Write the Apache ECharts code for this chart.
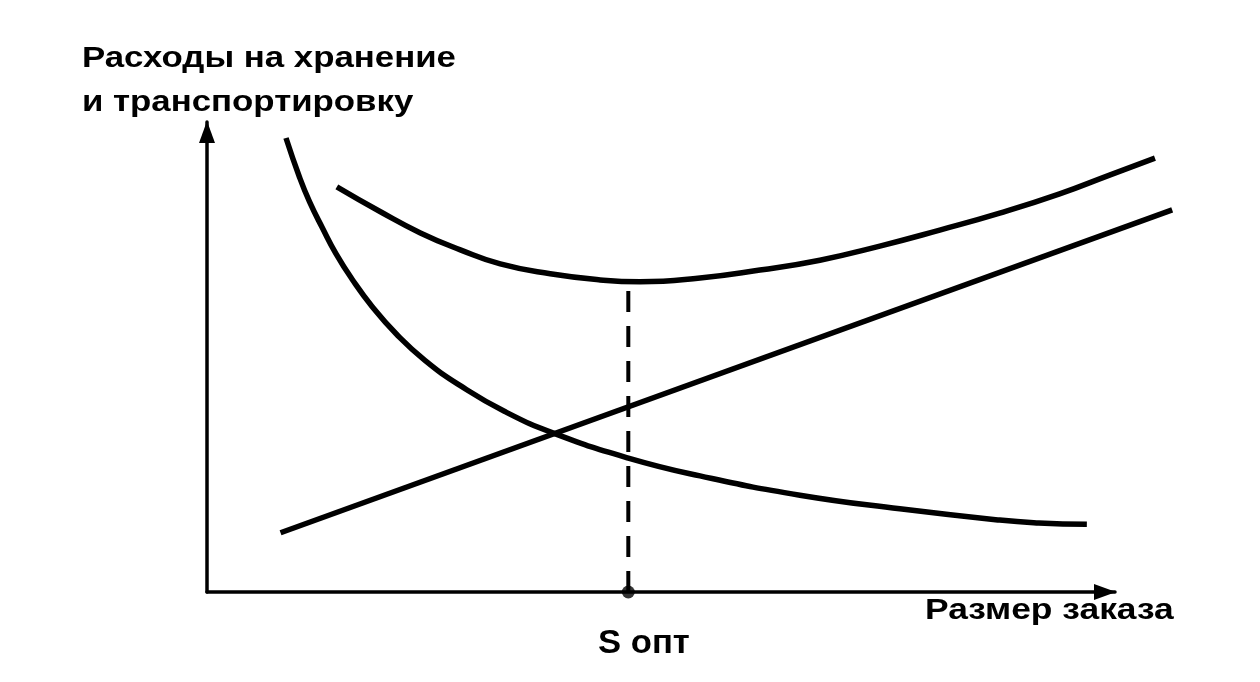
<!DOCTYPE html>
<html>
<head>
<meta charset="utf-8">
<script src="https://cdn.jsdelivr.net/npm/echarts@6/dist/echarts.min.js"></script>
<style>
html,body{margin:0;padding:0;background:#fff;}
#chart{width:1260px;height:682px;}
</style>
</head>
<body>
<div id="chart"></div>
<script>
// Storage (holding) cost – decreasing curve
const holdX = [8.7, 10.2, 11.3, 12.7, 14.2, 16.0, 18.2, 20.8, 24.0, 27.9, 32.8, 38.3, 46.4, 54.3, 65.3, 76.3, 87.3, 91.6, 96.9];
const holdY = [96.6, 88.2, 83.0, 77.5, 72.0, 66.5, 60.7, 55.0, 49.3, 43.9, 38.4, 33.7, 28.5, 24.7, 20.6, 17.7, 15.3, 14.7, 14.4];
// Transport cost – straight rising line
const transX = [8.1, 106.3];
const transY = [12.6, 81.3];
// Total cost – U-shaped curve
const totalX = [14.3, 19.1, 23.5, 27.9, 32.3, 37.8, 43.3, 47.7, 54.3, 60.9, 67.5, 74.1, 80.7, 87.3, 93.9, 99.4, 104.4];
const totalY = [86.2, 80.9, 76.4, 72.8, 69.8, 67.7, 66.4, 66.0, 66.8, 68.5, 70.6, 73.6, 77.0, 80.6, 84.7, 88.7, 92.3];
// Optimum order size
const optX = 46.4;
const optY = 66.0;
// Axis ranges: the drawn axes end at 100, the curves run on past the x arrow up to 106.3
const axisMax = 100;
const plotMaxX = 106.3;
// Texts
const yTitle = ['Расходы на хранение', 'и транспортировку'];
const xTitle = 'Размер заказа';
const optLabel = 'S опт';

const pairs = (xs, ys) => xs.map((x, i) => [x, ys[i]]);
const FONT = '"Liberation Sans", Arial, sans-serif';
const black = '#000';
const PX_PER_UNIT = 9.08;

const hiddenAxis = {show: false};
const shownAxisLine = {show: true, symbol: ['none', 'triangle'], symbolSize: [16, 22], symbolOffset: [0, -10], lineStyle: {color: black, width: 3.5}};
const chart = echarts.init(document.getElementById('chart'), null, {renderer: 'canvas'});
chart.setOption({
  animation: false,
  backgroundColor: '#fff',
  grid: [
    {left: 207, top: 122, width: axisMax * PX_PER_UNIT, height: 470},
    {left: 207, top: 122, width: plotMaxX * PX_PER_UNIT, height: 470}
  ],
  xAxis: [
    {
      type: 'value', gridIndex: 0, min: 0, max: axisMax, axisLine: shownAxisLine,
      axisTick: {show: false}, axisLabel: {show: false}, splitLine: {show: false}
    },
    {type: 'value', gridIndex: 1, min: 0, max: plotMaxX, ...hiddenAxis}
  ],
  yAxis: [
    {
      type: 'value', gridIndex: 0, min: 0, max: axisMax, axisLine: shownAxisLine,
      axisTick: {show: false}, axisLabel: {show: false}, splitLine: {show: false}
    },
    {type: 'value', gridIndex: 1, min: 0, max: axisMax, ...hiddenAxis}
  ],
  series: [
    {
      type: 'line', xAxisIndex: 1, yAxisIndex: 1, data: pairs(holdX, holdY), smooth: 0.5,
      showSymbol: false, clip: false, lineStyle: {color: black, width: 5.5}
    },
    {
      type: 'line', xAxisIndex: 1, yAxisIndex: 1, data: pairs(transX, transY), showSymbol: false, clip: false,
      lineStyle: {color: black, width: 5.5}
    },
    {
      type: 'line', xAxisIndex: 1, yAxisIndex: 1, data: pairs(totalX, totalY), smooth: 0.5,
      showSymbol: false, clip: false, lineStyle: {color: black, width: 5.5}
    },
    {
      type: 'line', xAxisIndex: 0, yAxisIndex: 0, data: [[optX, 0], [optX, optY]], showSymbol: false, clip: false,
      lineStyle: {color: black, width: 4, type: [21, 14]}
    },
    {
      type: 'scatter', xAxisIndex: 0, yAxisIndex: 0, data: [[optX, 0]], symbol: 'circle', symbolSize: 13, clip: false,
      itemStyle: {color: black}
    }
  ],
  graphic: [
    {type: 'text', x: 82, y: 37, scaleX: 1.16, style: {text: yTitle.join('\n'), font: 'bold 30px ' + FONT, fill: black, lineHeight: 44, verticalAlign: 'top'}},
    {type: 'text', x: 925, y: 596, scaleX: 1.18, style: {text: xTitle, font: 'bold 30px ' + FONT, fill: black, verticalAlign: 'top'}},
    {type: 'text', x: 598, y: 627, scaleX: 1.05, style: {text: optLabel, font: 'bold 33px ' + FONT, fill: black, verticalAlign: 'top'}}
  ]
});
</script>
</body>
</html>
